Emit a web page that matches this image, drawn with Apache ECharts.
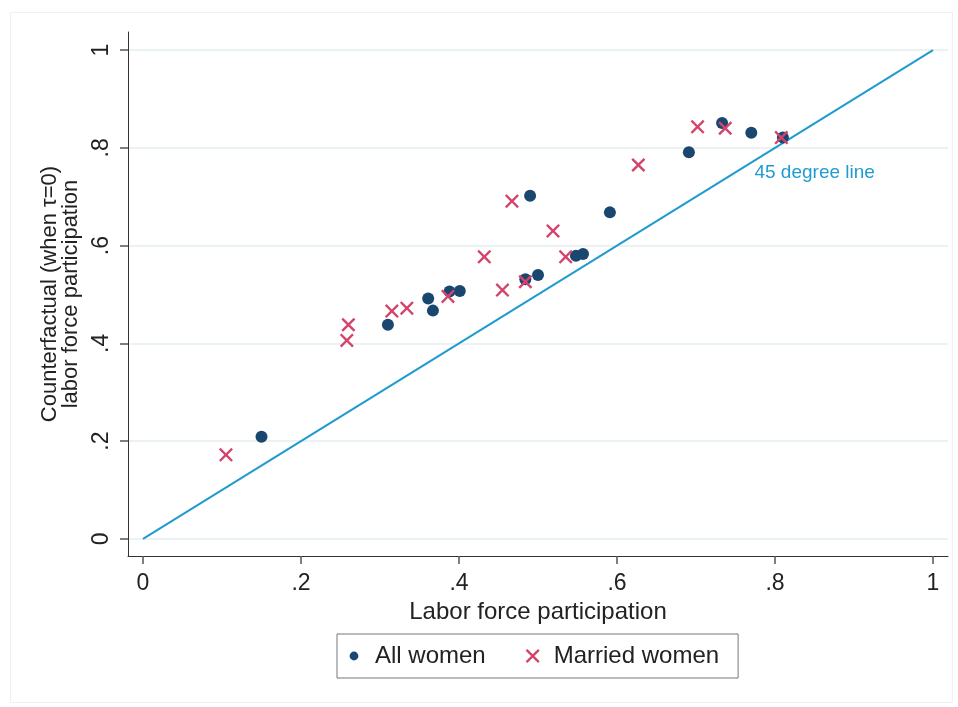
<!DOCTYPE html>
<html>
<head>
<meta charset="utf-8">
<script src="https://cdn.jsdelivr.net/npm/echarts@6/dist/echarts.min.js"></script>
<style>html,body{margin:0;padding:0;background:#fff}#c{width:958px;height:707px}</style>
</head>
<body>
<div id="c"></div>
<script>
// Data
const allWomen = [
  [0.150, 0.209], [0.310, 0.438], [0.361, 0.492], [0.367, 0.467],
  [0.388, 0.506], [0.401, 0.507], [0.484, 0.531], [0.490, 0.702],
  [0.500, 0.540], [0.548, 0.579], [0.557, 0.583], [0.591, 0.668],
  [0.691, 0.791], [0.733, 0.851], [0.770, 0.831], [0.810, 0.821]
];
const marriedWomen = [
  [0.105, 0.172], [0.258, 0.406], [0.260, 0.438], [0.315, 0.466],
  [0.334, 0.472], [0.386, 0.496], [0.432, 0.577], [0.455, 0.509],
  [0.467, 0.691], [0.484, 0.526], [0.519, 0.630], [0.535, 0.577],
  [0.627, 0.765], [0.702, 0.843], [0.737, 0.840], [0.808, 0.821]
];
const diagonal = [[0, 0], [1, 1]];
const tickValues = [0, 0.2, 0.4, 0.6, 0.8, 1];
const tickLabels = {0: '0', 0.2: '.2', 0.4: '.4', 0.6: '.6', 0.8: '.8', 1: '1'};
const diagLabel = '45 degree line';
const diagLabelAt = [0.774, 0.750];

const FONT = 'Liberation Sans, Arial, sans-serif';
const NAVY = '#1a476f';
const RED = '#d4436b';
const BLUE = '#1f9bd0';
const X_PATH = 'path://M0,1.2L1.2,0L5,3.8L8.8,0L10,1.2L6.2,5L10,8.8L8.8,10L5,6.2L1.2,10L0,8.8L3.8,5Z';
const DOT_LEGEND = 'path://M0,0M14,14M7,2.6A4.4,4.4,0,1,1,7,11.4A4.4,4.4,0,1,1,7,2.6Z';

function fmt(v) {
  const k = Math.round(v * 10) / 10;
  return tickLabels[k] !== undefined ? tickLabels[k] : '';
}

const chart = echarts.init(document.getElementById('c'), null, {renderer: 'canvas'});
chart.setOption({
  animation: false,
  backgroundColor: '#fff',
  graphic: [{
    type: 'rect', left: 8, top: 10, shape: {width: 942, height: 690},
    style: {fill: 'none', stroke: '#eef1f1', lineWidth: 1}, silent: true, z: -1
  }],
  grid: {left: 128, right: 10, top: 32, bottom: 151},
  xAxis: {
    type: 'value', min: -0.019, max: 1.019,
    name: 'Labor force participation', nameLocation: 'middle', nameGap: 38,
    nameTextStyle: {fontFamily: FONT, fontSize: 24, color: '#222'},
    axisLine: {show: true, onZero: false, lineStyle: {color: '#333', width: 1}},
    axisTick: {show: true, length: 8, customValues: tickValues, lineStyle: {color: '#555', width: 1.5}},
    axisLabel: {customValues: tickValues, formatter: fmt, fontFamily: FONT, fontSize: 23, color: '#222', margin: 16},
    splitLine: {show: false}
  },
  yAxis: {
    type: 'value', min: -0.035, max: 1.037,
    name: 'Counterfactual (when τ=0)\nlabor force participation', nameLocation: 'middle', nameGap: 46,
    nameRotate: 90,
    nameTextStyle: {fontFamily: FONT, fontSize: 22, lineHeight: 21, color: '#222', align: 'center'},
    axisLine: {show: true, onZero: false, lineStyle: {color: '#333', width: 1}},
    axisTick: {show: true, length: 8, customValues: tickValues, lineStyle: {color: '#555', width: 1.5}},
    axisLabel: {customValues: tickValues, formatter: fmt, rotate: 90, fontFamily: FONT, fontSize: 23, color: '#222', margin: 15},
    splitLine: {show: false}
  },
  legend: {
    left: 337, top: 634,
    orient: 'horizontal',
    padding: [10, 19, 10, 10],
    itemWidth: 32, itemHeight: 14, itemGap: 40,
    borderColor: '#777', borderWidth: 1,
    textStyle: {fontFamily: FONT, fontSize: 24, color: '#222'},
    data: [
      {name: 'All women', icon: DOT_LEGEND},
      {name: 'Married women', icon: X_PATH}
    ]
  },
  series: [
    {
      name: 'grid', type: 'line', data: [], silent: true, z: 0,
      markLine: {
        silent: true, symbol: 'none', label: {show: false}, z: 0,
        lineStyle: {color: '#e5eef1', width: 1.5, type: 'solid'},
        data: tickValues.map(v => ({yAxis: v}))
      }
    },
    {
      name: 'diag', type: 'line', data: diagonal, symbol: 'none', silent: true,
      lineStyle: {color: BLUE, width: 2},
      markPoint: {
        symbol: 'circle', symbolSize: 0, silent: true,
        label: {show: true, formatter: diagLabel, position: 'right', distance: 0,
          fontFamily: FONT, fontSize: 19, color: BLUE},
        data: [{coord: diagLabelAt}]
      },
      z: 2
    },
    {
      name: 'All women', type: 'scatter', data: allWomen,
      symbol: 'circle', symbolSize: 12,
      itemStyle: {color: NAVY, opacity: 1}, z: 3
    },
    {
      name: 'Married women', type: 'scatter', data: marriedWomen,
      symbol: X_PATH, symbolSize: 14,
      itemStyle: {color: RED, opacity: 1}, z: 4
    }
  ]
});
</script>
</body>
</html>
